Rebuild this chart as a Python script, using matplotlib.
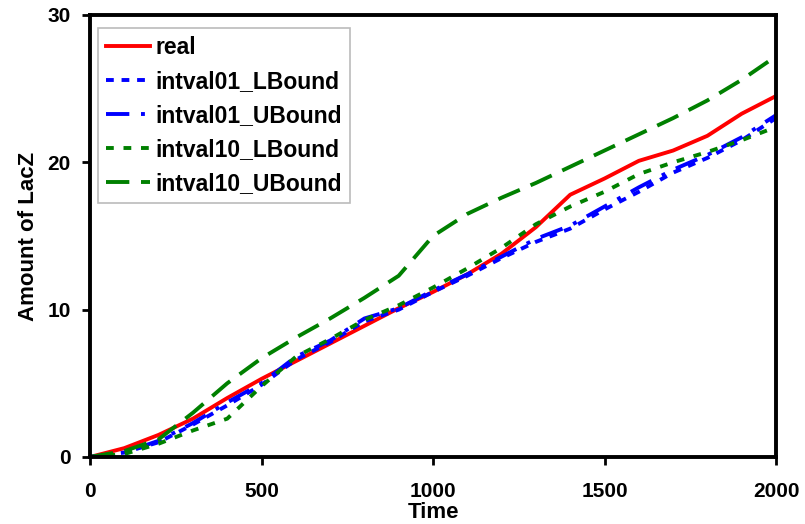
import matplotlib.pyplot as plt

plt.rcParams['font.family'] = ['Liberation Sans', 'DejaVu Sans']
plt.rcParams['font.weight'] = 'bold'

time = [0, 100, 200, 300, 400, 500, 600, 700, 800, 900, 1000,
        1100, 1200, 1300, 1400, 1500, 1600, 1700, 1800, 1900, 2000]

real = [0, 0.6, 1.5, 2.6, 4.0, 5.3, 6.5, 7.7, 8.9, 10.1, 11.2,
        12.4, 13.8, 15.6, 17.8, 18.9, 20.1, 20.8, 21.8, 23.3, 24.5]
i01_lb = [0, 0.3, 1.0, 2.2, 3.5, 4.9, 6.6, 7.8, 9.2, 10.0, 11.2,
          12.3, 13.5, 14.6, 15.5, 16.8, 18.0, 19.3, 20.3, 21.5, 23.0]
i01_ub = [0, 0.3, 1.1, 2.3, 3.7, 5.0, 6.8, 7.9, 9.4, 10.1, 11.3,
          12.4, 13.6, 14.8, 15.7, 17.0, 18.3, 19.5, 20.5, 21.7, 23.2]
i10_lb = [0, 0.2, 0.9, 1.8, 2.6, 4.8, 6.8, 8.0, 9.3, 10.3, 11.5,
          12.8, 14.2, 15.8, 17.0, 18.0, 19.2, 20.0, 20.7, 21.5, 22.4]
i10_ub = [0, 0.4, 1.2, 3.0, 5.0, 6.7, 8.1, 9.4, 10.8, 12.3, 15.0,
          16.5, 17.6, 18.6, 19.7, 20.8, 21.9, 23.0, 24.2, 25.6, 27.2]

fig = plt.figure(figsize=(8.05, 5.24), dpi=100)
ax = fig.add_axes([0.1118, 0.1279, 0.8522, 0.8435])

ax.plot(time, real, color='#ff0000', lw=2.8, label='real')
ax.plot(time, i01_lb, color='#0000ff', lw=2.8, ls=(0, (2, 2)), label='intval01_LBound')
ax.plot(time, i01_ub, color='#0000ff', lw=2.8, ls=(0, (6, 3, 1, 3)), label='intval01_UBound')
ax.plot(time, i10_lb, color='#008000', lw=2.8, ls=(0, (2, 2.5)), label='intval10_LBound')
ax.plot(time, i10_ub, color='#008000', lw=2.8, ls=(0, (6, 3)), label='intval10_UBound')

ax.set_xlim(0, 2000)
ax.set_ylim(0, 30)
ax.set_xticks([0, 500, 1000, 1500, 2000])
ax.set_yticks([0, 10, 20, 30])
for s in ax.spines.values():
    s.set_linewidth(2.8)
ax.tick_params(direction='out', width=2, length=6, labelsize=15)
ax.tick_params(axis='x', pad=12)
ax.tick_params(axis='y', pad=8)
ax.set_xlabel('Time', fontsize=16, fontweight='bold', labelpad=1)
ax.set_ylabel('Amount of LacZ', fontsize=16, fontweight='bold', labelpad=6)

leg = ax.legend(loc='upper left', fontsize=16.5, frameon=True, fancybox=False,
                borderpad=0.35, labelspacing=0.48, handlelength=1.9,
                handletextpad=0.25, borderaxespad=0,
                bbox_to_anchor=(0.012, 0.97))
leg.get_frame().set_edgecolor('#aaaaaa')
leg.get_frame().set_linewidth(1.2)

fig.savefig('out.png', dpi=100)
